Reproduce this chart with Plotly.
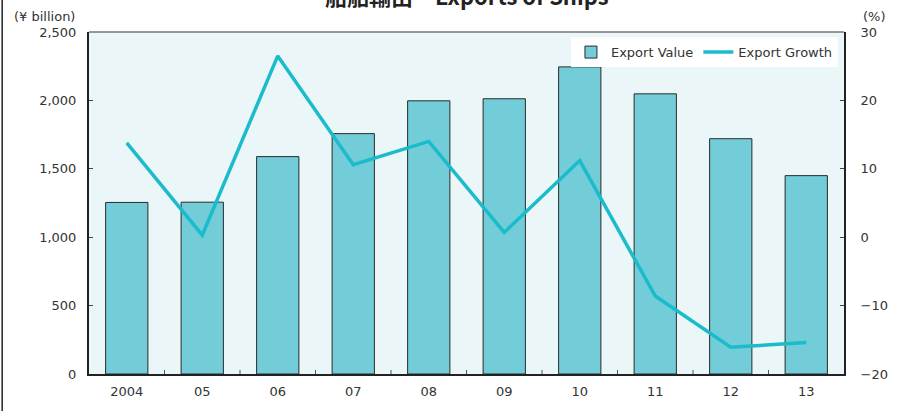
import plotly.graph_objects as go

years = ["2004", "05", "06", "07", "08", "09", "10", "11", "12", "13"]
export_value = [1254, 1256, 1589, 1757, 1997, 2012, 2245, 2048, 1720, 1450]
export_growth = [13.8, 0.3, 26.5, 10.6, 14.0, 0.7, 11.2, -8.6, -16.1, -15.4]

value_ticks = [0, 500, 1000, 1500, 2000, 2500]
value_labels = ["0", "500", "1,000", "1,500", "2,000", "2,500"]
growth_ticks = [-20, -10, 0, 10, 20, 30]

font = "DejaVu Sans, Verdana, sans-serif"
txt = "#333333"

fig = go.Figure()

fig.add_trace(go.Bar(
    x=years, y=export_value, name="Export Value",
    marker=dict(color="#72CDD8", line=dict(color="#2a2a2a", width=1)),
    width=0.56,
))

fig.add_trace(go.Scatter(
    x=years, y=export_growth, name="Export Growth", yaxis="y2",
    mode="lines", line=dict(color="#1ABCCC", width=3.5),
))

fig.update_layout(
    width=900, height=411,
    margin=dict(l=89, r=55, t=32, b=35),
    paper_bgcolor="white",
    plot_bgcolor="#EBF6F8",
    font=dict(family=font, size=13, color=txt),
    showlegend=True,
    legend=dict(
        orientation="h", x=0.992, xanchor="right", y=0.985, yanchor="top",
        bgcolor="white", font=dict(size=13, color=txt),
        itemwidth=30, tracegroupgap=0,
    ),
    bargap=0.44,
    xaxis=dict(
        showline=True, linecolor="#222", linewidth=2, mirror=False,
        ticks="", showgrid=False, tickfont=dict(size=13, color=txt),
        ticklabelstandoff=4,
    ),
    yaxis=dict(
        range=[0, 2500], tickvals=value_ticks, ticktext=value_labels,
        showline=True, linecolor="#222", linewidth=2,
        ticks="inside", ticklen=4, tickcolor="#444",
        showgrid=False, zeroline=False, ticklabelstandoff=8,
        tickfont=dict(size=13, color=txt),
    ),
    yaxis2=dict(
        overlaying="y", side="right", range=[-20, 30], tickvals=growth_ticks,
        showline=True, linecolor="#222", linewidth=2,
        ticks="inside", ticklen=4, tickcolor="#444",
        showgrid=False, zeroline=False, ticklabelstandoff=12,
        tickfont=dict(size=13, color=txt),
    ),
)

# top border line of the plot area
fig.add_shape(type="line", xref="paper", yref="paper", x0=0, x1=1, y0=1, y1=1,
              line=dict(color="#777", width=1.5))

# ticks between categories on the category axis
for i in range(len(years) - 1):
    fig.add_shape(type="line", xref="x", yref="paper", x0=i + 0.5, x1=i + 0.5,
                  y0=0, y1=0.012, line=dict(color="#555", width=1))

# left frame line of the picture
fig.add_shape(type="line", xref="paper", yref="paper", x0=-0.115, x1=-0.115,
              y0=-0.2, y1=1.2, line=dict(color="#222", width=1.5))

fig.add_annotation(text="(¥ billion)", xref="paper", yref="paper", x=-0.016, y=1.0,
                   xanchor="right", yanchor="bottom", yshift=6, showarrow=False,
                   font=dict(size=13, color=txt))
fig.add_annotation(text="(%)", xref="paper", yref="paper", x=1.022, y=1.0,
                   xanchor="left", yanchor="bottom", yshift=6, showarrow=False,
                   font=dict(size=13, color=txt))
fig.add_annotation(text="<b>船舶輸出　Exports of Ships</b>", xref="paper", yref="paper",
                   x=0.5, y=1.0, xanchor="center", yanchor="bottom", yshift=19,
                   showarrow=False, font=dict(size=22, color="#222",
                                              family="Noto Sans CJK JP, " + font))

# the page body has a default margin; drop it so the chart fills the window
fig.write_html("out.html", config={"displayModeBar": False},
               post_script="document.body.style.margin='0';")
